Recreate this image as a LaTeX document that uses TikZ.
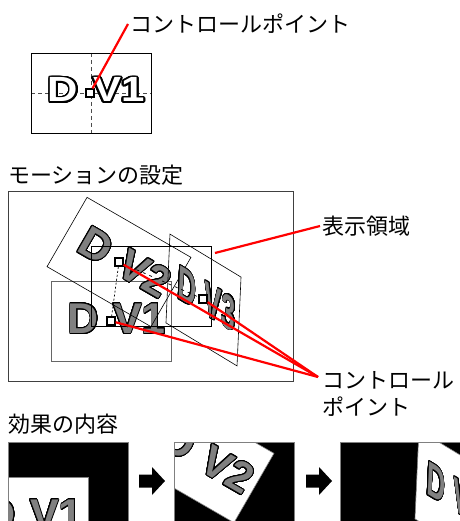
\documentclass[tikz,border=0pt]{standalone}
\usepackage{fontspec}
\usepackage{contour}
\usepackage{tikz}
\newfontfamily\jpfont{Noto Sans CJK JP}
\newfontfamily\dvfont{Liberation Sans}
\contournumber{32}
\tikzset{
  jplabel/.style={
    font=\jpfont\fontsize{22}{27.5}\selectfont,
    anchor=west,
    align=left,
    inner sep=2pt
  },
  layerframe/.style={draw=black, line width=0.6pt},
  panelframe/.style={fill=white, draw=gray, line width=0.6pt},
  layertext/.style={
    font=\dvfont\bfseries\fontsize{43}{43}\selectfont,
    text=gray,
    inner sep=0pt,
    transform shape,
    execute at begin node={\contourlength{0.8pt}}
  },
  toptext/.style={
    font=\dvfont\bfseries\fontsize{35}{35}\selectfont,
    text=white,
    inner sep=0pt,
    xscale=1.2,
    execute at begin node={\contourlength{1.5pt}}
  },
  layerone/.style={shift={(111.5,321.5)}},
  layertwo/.style={shift={(119,262)}, rotate=-30},
  layerthree/.style={shift={(203.5,300)}, cm={0.592,-0.358,0.05,1.11,(0,0)}},
  ctrlpt/.style={draw, fill=white, line width=1.2pt, minimum size=8pt, inner sep=0pt},
  leader/.style={red, line width=2.2pt},
  guide/.style={black!70, line width=0.7pt, dash pattern=on 4pt off 3pt}
}
% one frame of the motion, 120 x 80, centred on its control point
\newcommand{\dvlayer}[4]{%
  \path[#1] (-60,-40) rectangle (60,40);
  \node[#2] (#4d) at (-28,-2.5) {\contour{black}{D}};
  \node[#2] (#4v) at (28,-2.5) {\contour{black}{#3}};
}

\begin{document}
\begin{tikzpicture}[x=1pt, y=-1pt]
  \useasboundingbox (0,0) rectangle (459,521);

  % control point of a single frame
  \draw[guide] (91,53) -- (91,133);
  \draw[guide] (31,93) -- (151,93);
  \begin{scope}[shift={(91,93)}]
    \dvlayer{layerframe, line width=0.9pt}{toptext}{V1}{top}
  \end{scope}
  \node[ctrlpt] (cpTop) at (90,93) {};
  \node[jplabel] (toplbl) at (128,24) {コントロールポイント};
  \draw[leader] (toplbl.west) -- (cpTop);

  % motion setting
  \node[jplabel] (motiontitle) at (6,175) {モーションの設定};
  \draw[black!75, line width=0.8pt] (8,191) rectangle (293,381);
  \begin{scope}[layerone]
    \dvlayer{layerframe, draw=black!60}{layertext}{V1}{one}
  \end{scope}
  \begin{scope}[layertwo]
    \dvlayer{layerframe}{layertext}{V2}{two}
  \end{scope}
  \begin{scope}[layerthree]
    \dvlayer{layerframe}{layertext}{V3}{three}
  \end{scope}
  \draw[black, line width=0.7pt] (91,246) rectangle (211,326);
  \coordinate (areatip) at (215,253);

  \node[ctrlpt] (cpOne) at (111,321) {};
  \node[ctrlpt] (cpTwo) at (119,262) {};
  \node[ctrlpt] (cpThree) at (203,299) {};
  \draw[line width=0.7pt, dash pattern=on 2pt off 2pt] (cpOne) -- (cpTwo);
  \draw[line width=0.7pt, dash pattern=on 3pt off 4pt] (cpTwo) -- (cpThree);

  \node[jplabel] (arealbl) at (320,226) {表示領域};
  \draw[leader] (arealbl.west) -- (areatip);
  \node[jplabel] (cplbl) at (320,394) {コントロール\\ポイント};
  \coordinate (cpjoin) at (318,377);
  \draw[leader] (cpjoin) -- (cpTwo);
  \draw[leader] (cpjoin) -- (cpThree);
  \draw[leader] (cpjoin) -- (cpOne);

  % what is shown
  \node[jplabel] (effecttitle) at (6,424) {効果の内容};

  \begin{scope}
    \clip (8,442) rectangle (128,522);
    \fill[black] (8,442) rectangle (128,522);
    \begin{scope}[shift={(-83,196)}, layerone]
      \dvlayer{panelframe}{layertext}{V1}{pone}
    \end{scope}
  \end{scope}
  \draw[gray, line width=0.6pt] (8,442) rectangle (128,522);

  \coordinate (stepone) at (139,481);
  \fill (stepone) ++(0,-6.5) -- ++(13,0) -- ++(0,-7.5) -- ++(13,14)
    -- ++(-13,14) -- ++(0,-7.5) -- ++(-13,0) -- cycle;

  \begin{scope}
    \clip (174,442) rectangle (294,522);
    \fill[black] (174,442) rectangle (294,522);
    \begin{scope}[shift={(83,196)}, layertwo]
      \dvlayer{panelframe}{layertext}{V2}{ptwo}
    \end{scope}
  \end{scope}
  \draw[gray, line width=0.6pt] (174,442) rectangle (294,522);

  \coordinate (steptwo) at (306,481);
  \fill (steptwo) ++(0,-6.5) -- ++(13,0) -- ++(0,-7.5) -- ++(13,14)
    -- ++(-13,14) -- ++(0,-7.5) -- ++(-13,0) -- cycle;

  \begin{scope}
    \clip (340,442) rectangle (460,522);
    \fill[black] (340,442) rectangle (460,522);
    \begin{scope}[shift={(249,196)}, layerthree]
      \dvlayer{panelframe}{layertext}{V3}{pthree}
    \end{scope}
  \end{scope}
  \draw[gray, line width=0.6pt] (340,442) rectangle (460,522);
\end{tikzpicture}
\end{document}
